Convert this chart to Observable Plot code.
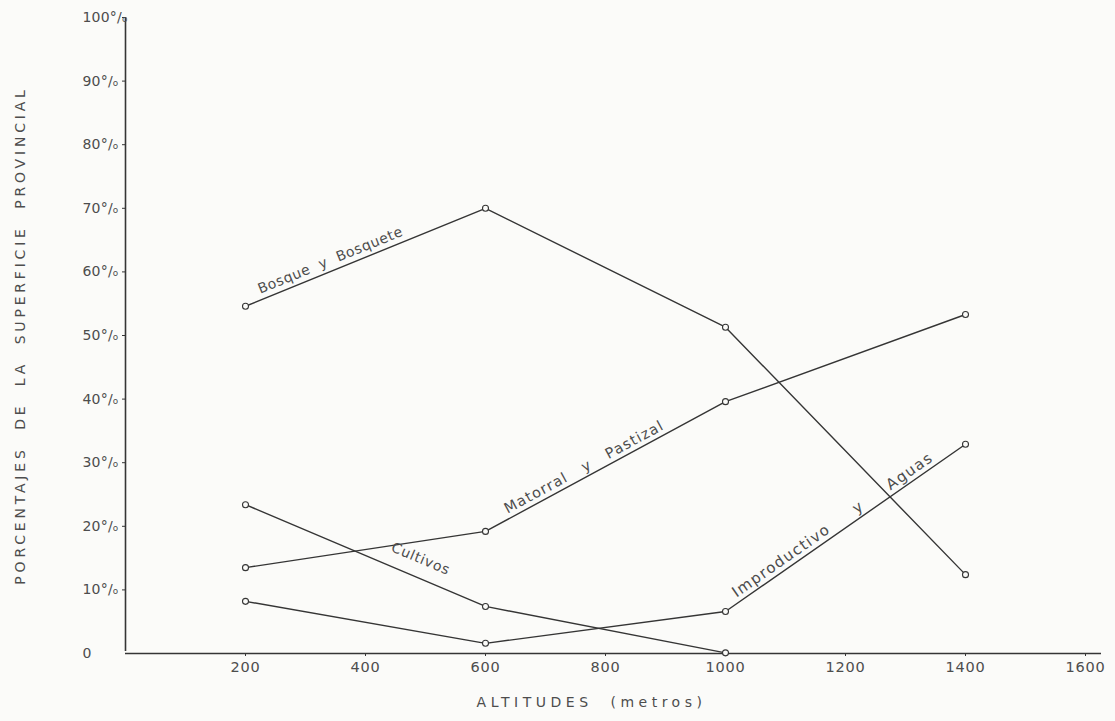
<!DOCTYPE html>
<html><head><meta charset="utf-8">
<script src="https://cdn.jsdelivr.net/npm/d3@7"></script>
<script src="https://cdn.jsdelivr.net/npm/@observablehq/plot@0.6"></script>
<style>
body{margin:0;background:#fbfbf9;}
svg{background:#fbfbf9;}
svg text{font-family:"DejaVu Sans",sans-serif;}
</style></head><body><div id="chart"></div>
<script>
// ---- data ----
const altitudes = [200, 600, 1000, 1400];
const bosque = [54.6, 70.0, 51.3, 12.4];
const matorral = [13.5, 19.2, 39.6, 53.3];
const cultivos = [23.4, 7.4, 0.1];
const improductivo = [8.2, 1.6, 6.6, 32.9];
const seriesNames = ["Bosque y Bosquete", "Matorral y Pastizal", "Cultivos", "Improductivo y Aguas"];
const seriesValues = [bosque, matorral, cultivos, improductivo];
const xTicks = [200, 400, 600, 800, 1000, 1200, 1400, 1600];
const yTicks = [0, 10, 20, 30, 40, 50, 60, 70, 80, 90, 100];
const xTitle = "ALTITUDES\u00a0\u00a0(metros)";
const yTitle = "PORCENTAJES\u00a0\u00a0DE\u00a0\u00a0LA\u00a0\u00a0SUPERFICIE\u00a0\u00a0PROVINCIAL";
const labelTexts = ["Bosque\u00a0\u00a0y\u00a0\u00a0Bosquete", "Matorral\u00a0\u00a0\u00a0y\u00a0\u00a0\u00a0Pastizal", "Cultivos", "Improductivo\u00a0\u00a0\u00a0\u00a0\u00a0y\u00a0\u00a0\u00a0\u00a0\u00a0Aguas"];

// ---- layout ----
const W = 1115, H = 721;
const M = {left: 125, right: 30, top: 17, bottom: 68};
const xOpt = () => ({domain: [0, 1600], range: [M.left, W - M.right]});
const yOpt = () => ({domain: [0, 100], range: [H - M.bottom, M.top]});
const ink = "#353535";
const textInk = "#4d4d4d";

const rows = [];
seriesNames.forEach((s, i) => seriesValues[i].forEach((v, j) => rows.push({series: s, x: altitudes[j], y: v})));

// label placement along a segment of each series: [segment index, fraction, offset px, font size, letter spacing]
const labelPlace = [[0, 0.37, 6, 14, 0.6], [1, 0.43, 5, 14.5, 1.2], [0, 0.70, 14, 14, 0.8], [2, 0.47, 5, 15, 1.4]];
const xs = Plot.scale({x: xOpt()}), ys = Plot.scale({y: yOpt()});
const labels = labelTexts.map((t, i) => {
  const vals = seriesValues[i];
  const [k, f, off, fs, ls] = labelPlace[i];
  const px1 = xs.apply(altitudes[k]), px2 = xs.apply(altitudes[k + 1]);
  const py1 = ys.apply(vals[k]), py2 = ys.apply(vals[k + 1]);
  const ang = Math.atan2(py2 - py1, px2 - px1);
  const px = px1 + f * (px2 - px1) + off * Math.sin(ang);
  const py = py1 + f * (py2 - py1) - off * Math.cos(ang);
  return {text: t, x: xs.invert(px), y: ys.invert(py), rotate: ang * 180 / Math.PI, fs, ls};
});

const fmtY = d => d === 0 ? "0" : d + "°/ₒ";

const plot = Plot.plot({
  width: W, height: H,
  marginLeft: M.left, marginRight: M.right, marginTop: M.top, marginBottom: M.bottom,
  style: {background: "#fbfbf9", color: textInk},
  x: {...xOpt(), axis: null},
  y: {...yOpt(), axis: null},
  marks: [
    Plot.ruleX([0], {y1: 0, y2: 100, insetTop: -2, stroke: ink, strokeWidth: 1.6}),
    Plot.ruleY([0], {x1: 0, x2: 1600, insetRight: -16, stroke: ink, strokeWidth: 1.6}),
    Plot.ruleY(yTicks.filter(d => d > 0), {y: d => d, x1: 0, x2: 0, insetLeft: -3, stroke: ink, strokeWidth: 1}),
    Plot.text(yTicks, {y: d => d, frameAnchor: "left", dx: -43, textAnchor: "start", text: fmtY, fontSize: 14, fill: textInk, className: "ytick"}),
    Plot.ruleX(xTicks, {x: d => d, y1: 0, y2: 0, insetBottom: -3, stroke: ink, strokeWidth: 1}),
    Plot.text(xTicks, {x: d => d, frameAnchor: "bottom", dy: 18, text: d => String(d), fontSize: 14.5, fill: textInk, className: "xtick"}),
    Plot.text([xTitle], {frameAnchor: "bottom", textAnchor: "middle", dx: -14, dy: 53, text: d => d, fontSize: 14, fill: textInk, className: "xtitle"}),
    Plot.text([yTitle], {frameAnchor: "left", textAnchor: "middle", dx: -105, rotate: -90, text: d => d, fontSize: 14, fill: textInk, className: "ytitle"}),
    Plot.line(rows, {x: "x", y: "y", z: "series", stroke: ink, strokeWidth: 1.4}),
    Plot.dot(rows, {x: "x", y: "y", r: 3, fill: "#fbfbf9", stroke: ink, strokeWidth: 1.1}),
    Plot.text(labels, {x: "x", y: "y", text: "text", rotate: "rotate", lineAnchor: "bottom", textAnchor: "middle", fontSize: d => d.fs, fill: textInk, className: "serieslabel"})
  ]
});
document.getElementById("chart").appendChild(plot);
const svg = d3.select(plot);
svg.selectAll(".ytick text").style("letter-spacing", "0.2px");
svg.selectAll(".xtick text").style("letter-spacing", "0.8px");
svg.selectAll(".xtitle text").style("letter-spacing", "4.5px");
svg.selectAll(".ytitle text").style("letter-spacing", "3.8px");
svg.selectAll(".serieslabel text").each(function(d, i) {
  const l = labels[d];
  d3.select(this).style("letter-spacing", (l ? l.ls : 1) + "px");
});
</script></body></html>
